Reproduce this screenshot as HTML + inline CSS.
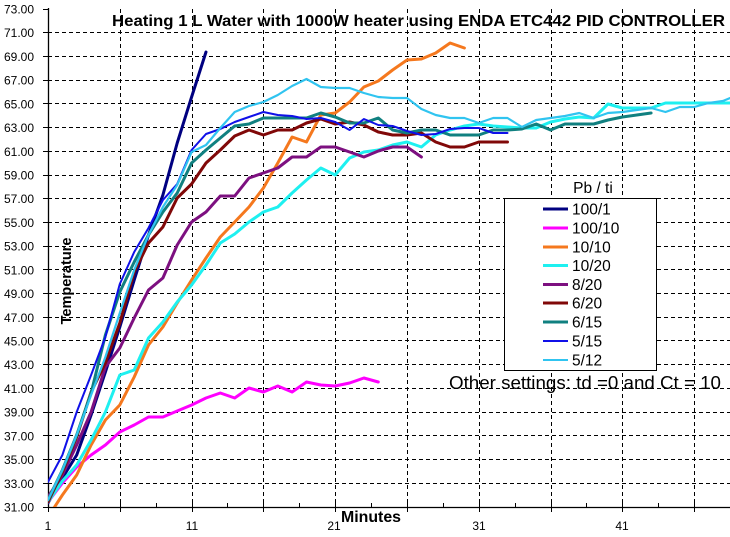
<!DOCTYPE html>
<html><head><meta charset="utf-8"><style>
html,body{margin:0;padding:0;background:#fff;}
svg{display:block;}
text{font-family:"Liberation Sans",Arial,sans-serif;fill:#000;}
</style></head><body>
<svg width="730" height="537" viewBox="0 0 730 537" xmlns="http://www.w3.org/2000/svg">
<rect x="0" y="0" width="730" height="537" fill="#fff"/>
<defs><clipPath id="pa"><rect x="48" y="9" width="682" height="498"/></clipPath></defs>
<g stroke="#000" stroke-width="1" stroke-dasharray="4 3" fill="none">
<line x1="48" y1="483.5" x2="730" y2="483.5"/>
<line x1="48" y1="459.5" x2="730" y2="459.5"/>
<line x1="48" y1="435.5" x2="730" y2="435.5"/>
<line x1="48" y1="412.5" x2="730" y2="412.5"/>
<line x1="48" y1="388.5" x2="730" y2="388.5"/>
<line x1="48" y1="364.5" x2="730" y2="364.5"/>
<line x1="48" y1="340.5" x2="730" y2="340.5"/>
<line x1="48" y1="317.5" x2="730" y2="317.5"/>
<line x1="48" y1="293.5" x2="730" y2="293.5"/>
<line x1="48" y1="269.5" x2="730" y2="269.5"/>
<line x1="48" y1="246.5" x2="730" y2="246.5"/>
<line x1="48" y1="222.5" x2="730" y2="222.5"/>
<line x1="48" y1="198.5" x2="730" y2="198.5"/>
<line x1="48" y1="175.5" x2="730" y2="175.5"/>
<line x1="48" y1="151.5" x2="730" y2="151.5"/>
<line x1="48" y1="127.5" x2="730" y2="127.5"/>
<line x1="48" y1="103.5" x2="730" y2="103.5"/>
<line x1="48" y1="80.5" x2="730" y2="80.5"/>
<line x1="48" y1="56.5" x2="730" y2="56.5"/>
<line x1="48" y1="32.5" x2="730" y2="32.5"/>
<line x1="120.5" y1="9" x2="120.5" y2="507"/>
<line x1="192.5" y1="9" x2="192.5" y2="507"/>
<line x1="263.5" y1="9" x2="263.5" y2="507"/>
<line x1="335.5" y1="9" x2="335.5" y2="507"/>
<line x1="407.5" y1="9" x2="407.5" y2="507"/>
<line x1="479.5" y1="9" x2="479.5" y2="507"/>
<line x1="551.5" y1="9" x2="551.5" y2="507"/>
<line x1="622.5" y1="9" x2="622.5" y2="507"/>
<line x1="694.5" y1="9" x2="694.5" y2="507"/>
</g>
<g stroke="#000" stroke-width="1.3" fill="none">
<line x1="48.5" y1="8" x2="48.5" y2="508"/>
<line x1="48" y1="507.5" x2="730" y2="507.5"/>
</g>
<g stroke="#000" stroke-width="1">
<line x1="43" y1="507.5" x2="48" y2="507.5"/>
<line x1="43" y1="483.5" x2="48" y2="483.5"/>
<line x1="43" y1="459.5" x2="48" y2="459.5"/>
<line x1="43" y1="435.5" x2="48" y2="435.5"/>
<line x1="43" y1="412.5" x2="48" y2="412.5"/>
<line x1="43" y1="388.5" x2="48" y2="388.5"/>
<line x1="43" y1="364.5" x2="48" y2="364.5"/>
<line x1="43" y1="340.5" x2="48" y2="340.5"/>
<line x1="43" y1="317.5" x2="48" y2="317.5"/>
<line x1="43" y1="293.5" x2="48" y2="293.5"/>
<line x1="43" y1="269.5" x2="48" y2="269.5"/>
<line x1="43" y1="246.5" x2="48" y2="246.5"/>
<line x1="43" y1="222.5" x2="48" y2="222.5"/>
<line x1="43" y1="198.5" x2="48" y2="198.5"/>
<line x1="43" y1="175.5" x2="48" y2="175.5"/>
<line x1="43" y1="151.5" x2="48" y2="151.5"/>
<line x1="43" y1="127.5" x2="48" y2="127.5"/>
<line x1="43" y1="103.5" x2="48" y2="103.5"/>
<line x1="43" y1="80.5" x2="48" y2="80.5"/>
<line x1="43" y1="56.5" x2="48" y2="56.5"/>
<line x1="43" y1="32.5" x2="48" y2="32.5"/>
<line x1="43" y1="9.5" x2="48" y2="9.5"/>
<line x1="48.5" y1="503" x2="48.5" y2="512"/>
<line x1="84.5" y1="503" x2="84.5" y2="508"/>
<line x1="120.5" y1="503" x2="120.5" y2="512"/>
<line x1="156.5" y1="503" x2="156.5" y2="508"/>
<line x1="192.5" y1="503" x2="192.5" y2="512"/>
<line x1="227.5" y1="503" x2="227.5" y2="508"/>
<line x1="263.5" y1="503" x2="263.5" y2="512"/>
<line x1="299.5" y1="503" x2="299.5" y2="508"/>
<line x1="335.5" y1="503" x2="335.5" y2="512"/>
<line x1="371.5" y1="503" x2="371.5" y2="508"/>
<line x1="407.5" y1="503" x2="407.5" y2="512"/>
<line x1="443.5" y1="503" x2="443.5" y2="508"/>
<line x1="479.5" y1="503" x2="479.5" y2="512"/>
<line x1="515.5" y1="503" x2="515.5" y2="508"/>
<line x1="551.5" y1="503" x2="551.5" y2="512"/>
<line x1="586.5" y1="503" x2="586.5" y2="508"/>
<line x1="622.5" y1="503" x2="622.5" y2="512"/>
<line x1="658.5" y1="503" x2="658.5" y2="508"/>
<line x1="694.5" y1="503" x2="694.5" y2="512"/>
</g>
<g font-size="12" text-anchor="end">
<text x="34" y="511.5">31.00</text>
<text x="34" y="487.8">33.00</text>
<text x="34" y="464.1">35.00</text>
<text x="34" y="440.4">37.00</text>
<text x="34" y="416.6">39.00</text>
<text x="34" y="392.9">41.00</text>
<text x="34" y="369.2">43.00</text>
<text x="34" y="345.5">45.00</text>
<text x="34" y="321.8">47.00</text>
<text x="34" y="298.1">49.00</text>
<text x="34" y="274.4">51.00</text>
<text x="34" y="250.6">53.00</text>
<text x="34" y="226.9">55.00</text>
<text x="34" y="203.2">57.00</text>
<text x="34" y="179.5">59.00</text>
<text x="34" y="155.8">61.00</text>
<text x="34" y="132.1">63.00</text>
<text x="34" y="108.4">65.00</text>
<text x="34" y="84.6">67.00</text>
<text x="34" y="60.9">69.00</text>
<text x="34" y="37.2">71.00</text>
<text x="34" y="13.5">73.00</text>
</g>
<g font-size="12" text-anchor="middle">
<text x="48" y="530">1</text>
<text x="192" y="530">11</text>
<text x="334" y="530">21</text>
<text x="479" y="530">31</text>
<text x="622" y="530">41</text>
</g>
<text x="341" y="522" font-size="16" font-weight="bold" textLength="60" lengthAdjust="spacingAndGlyphs">Minutes</text>
<text transform="translate(71,281) rotate(-90)" font-size="14.5" font-weight="bold" text-anchor="middle">Temperature</text>
<text x="112" y="26" font-size="16" font-weight="bold" textLength="613" lengthAdjust="spacingAndGlyphs">Heating 1 L Water with 1000W heater using ENDA ETC442 PID CONTROLLER</text>

<g clip-path="url(#pa)" fill="none" stroke-linejoin="round" stroke-linecap="round">
<polyline stroke="#000080" stroke-width="3" points="48,503 62.4,478 76.7,455 91.1,415 105.4,372 119.8,327 134.2,280 148.5,235 162.9,195 177.2,143 191.6,97 206,52"/>
<polyline stroke="#FF00FF" stroke-width="3" points="48,502 62.4,483 76.7,467 91.1,455 105.4,445 119.8,432 134.2,425 148.5,417 162.9,417 177.2,411 191.6,405 206,398 220.3,393 234.7,398 249,388 263.4,392 277.8,386 292.1,392 306.5,382 320.8,385 335.2,386 349.6,383 363.9,378 378.3,382"/>
<polyline stroke="#F5781E" stroke-width="3" points="48,517 62.4,495 76.7,475 91.1,445 105.4,420 119.8,405 134.2,377 148.5,345 162.9,327 177.2,303 191.6,280 206,258 220.3,237 234.7,222 249,207 263.4,188 277.8,163 292.1,137 306.5,142 320.8,115 335.2,113 349.6,102 363.9,87 378.3,81 392.6,70 407,60 421.4,59 435.7,53 450.1,43 464.4,48"/>
<polyline stroke="#1EF0F0" stroke-width="3" points="48,502 62.4,481 76.7,465 91.1,440 105.4,412 119.8,375 134.2,370 148.5,338 162.9,322 177.2,302 191.6,285 206,265 220.3,243 234.7,234 249,222 263.4,212 277.8,207 292.1,193 306.5,180 320.8,168 335.2,175 349.6,158 363.9,152 378.3,150 392.6,145 407,142 421.4,147 435.7,135 450.1,130 464.4,126 478.8,124 493.2,126 507.5,127 521.9,128 536.2,128 550.6,122 565,119 579.3,117 593.7,118 608,104 622.4,108 636.8,108 651.1,108 665.5,103 679.8,103 694.2,103 708.6,103 722.9,103 737.3,103"/>
<polyline stroke="#7D1080" stroke-width="3" points="48,497 62.4,475 76.7,445 91.1,412 105.4,367 119.8,348 134.2,318 148.5,290 162.9,278 177.2,245 191.6,222 206,212 220.3,196 234.7,196 249,178 263.4,173 277.8,168 292.1,157 306.5,157 320.8,147 335.2,147 349.6,152 363.9,157 378.3,151 392.6,147 407,147 421.4,157"/>
<polyline stroke="#800808" stroke-width="3" points="48,502 62.4,472 76.7,437 91.1,392 105.4,363 119.8,323 134.2,272 148.5,243 162.9,227 177.2,198 191.6,184 206,163 220.3,150 234.7,136 249,130 263.4,135 277.8,130 292.1,130 306.5,123 320.8,119 335.2,124 349.6,122 363.9,125 378.3,132 392.6,135 407,135 421.4,133 435.7,142 450.1,147 464.4,147 478.8,142 493.2,142 507.5,142"/>
<polyline stroke="#108080" stroke-width="3" points="48,500 62.4,470 76.7,435 91.1,393 105.4,335 119.8,292 134.2,262 148.5,235 162.9,212 177.2,193 191.6,163 206,150 220.3,138 234.7,126 249,124 263.4,118 277.8,118 292.1,118 306.5,118 320.8,113 335.2,117 349.6,123 363.9,123 378.3,118 392.6,130 407,133 421.4,130 435.7,130 450.1,135 464.4,135 478.8,135 493.2,130 507.5,130 521.9,129 536.2,124 550.6,130 565,124 579.3,124 593.7,124 608,120 622.4,117 636.8,115 651.1,113"/>
<polyline stroke="#1010E8" stroke-width="2" points="48,482 62.4,455 76.7,412 91.1,375 105.4,337 119.8,284 134.2,252 148.5,228 162.9,200 177.2,184 191.6,150 206,134 220.3,129 234.7,122 249,117 263.4,112 277.8,115 292.1,116 306.5,119 320.8,118 335.2,122 349.6,130 363.9,119 378.3,125 392.6,126 407,131 421.4,135 435.7,134 450.1,129 464.4,128 478.8,128 493.2,133 507.5,133"/>
<polyline stroke="#30C4F0" stroke-width="2.2" points="48,500 62.4,470 76.7,435 91.1,395 105.4,357 119.8,313 134.2,270 148.5,235 162.9,207 177.2,185 191.6,152 206,145 220.3,128 234.7,112 249,106 263.4,102 277.8,95 292.1,86 306.5,79 320.8,87 335.2,88 349.6,88 363.9,93 378.3,97 392.6,98 407,98 421.4,109 435.7,115 450.1,118 464.4,118 478.8,123 493.2,118 507.5,118 521.9,127 536.2,120 550.6,118 565,116 579.3,113 593.7,118 608,113 622.4,112 636.8,110 651.1,108 665.5,112 679.8,107 694.2,107 708.6,103 722.9,101 737.3,95"/>
</g>

<text x="593" y="193" font-size="15.5" text-anchor="middle">Pb / ti</text>
<rect x="504.5" y="198.5" width="152" height="172" fill="#fff" stroke="#000" stroke-width="1"/>
<g stroke-linecap="butt">
<line x1="543" y1="209" x2="568" y2="209" stroke="#000080" stroke-width="3"/>
<line x1="543" y1="228" x2="568" y2="228" stroke="#FF00FF" stroke-width="3"/>
<line x1="543" y1="247" x2="568" y2="247" stroke="#F5781E" stroke-width="3"/>
<line x1="543" y1="265.5" x2="568" y2="265.5" stroke="#1EF0F0" stroke-width="3"/>
<line x1="543" y1="284.5" x2="568" y2="284.5" stroke="#7D1080" stroke-width="3"/>
<line x1="543" y1="303" x2="568" y2="303" stroke="#800808" stroke-width="3"/>
<line x1="543" y1="322" x2="568" y2="322" stroke="#108080" stroke-width="3"/>
<line x1="543" y1="341" x2="568" y2="341" stroke="#1010E8" stroke-width="2"/>
<line x1="543" y1="360" x2="568" y2="360" stroke="#30C4F0" stroke-width="2"/>
</g>
<g font-size="15.5">
<text x="572" y="214.5">100/1</text>
<text x="572" y="233.5">100/10</text>
<text x="572" y="252.5">10/10</text>
<text x="572" y="271">10/20</text>
<text x="572" y="290">8/20</text>
<text x="572" y="308.5">6/20</text>
<text x="572" y="327.5">6/15</text>
<text x="572" y="346.5">5/15</text>
<text x="572" y="365.5">5/12</text>
</g>
<text x="449" y="389" font-size="18" textLength="272" lengthAdjust="spacingAndGlyphs">Other settings: td =0 and Ct = 10</text>
</svg>
</body></html>
